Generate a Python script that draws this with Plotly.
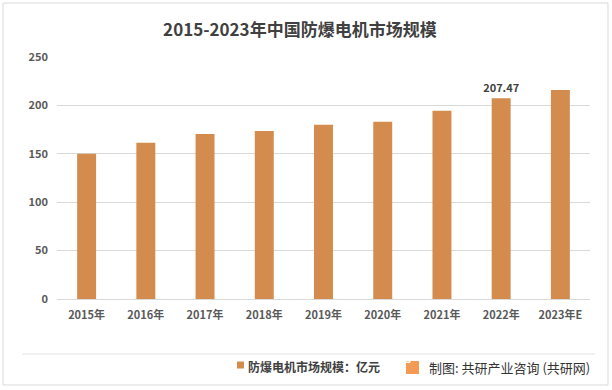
import plotly.graph_objects as go

categories = ["2015年", "2016年", "2017年", "2018年", "2019年", "2020年", "2021年", "2022年", "2023年E"]
values = [150, 161.5, 170.5, 173.5, 180, 183, 194.5, 207.47, 216]
labeled = ["2022年"]
series_name = "防爆电机市场规模：亿元"
title_text = "2015-2023年中国防爆电机市场规模"
source_text = "制图: 共研产业咨询 (共研网)"
bar_color = "#D38B4E"

W, H = 612, 390
L, R, T, B = 57, 22, 57, 91
pw, ph = W - L - R, H - T - B


def px(x):
    return (x - L) / pw


def py(y):
    return (H - B - y) / ph


font = "Microsoft YaHei, Noto Sans CJK SC, sans-serif"
texts = [f"{v:.2f}" if c in labeled else "" for c, v in zip(categories, values)]

fig = go.Figure()
fig.add_trace(go.Bar(
    x=categories, y=values, name=series_name,
    marker=dict(color=bar_color, line=dict(width=0)),
    width=0.32,
    text=texts, textposition="outside", cliponaxis=False, constraintext="none",
    textfont=dict(size=11, color="#404040", family=font, weight="bold"),
    showlegend=False, hoverinfo="skip",
))

fig.update_layout(
    width=W, height=H,
    margin=dict(l=L, r=R, t=T, b=B, autoexpand=False),
    paper_bgcolor="white", plot_bgcolor="white",
    font=dict(family=font, color="#595959"),
    title=dict(text=title_text, x=0.49, xanchor="center",
               y=1 - 30 / H, yanchor="middle",
               font=dict(size=17, color="#404040", family=font, weight="bold")),
    xaxis=dict(showgrid=False, showline=True, linecolor="#D9D9D9", ticks="",
               tickfont=dict(size=11, color="#595959", family=font, weight="bold"),
               ticklabelstandoff=6, fixedrange=True),
    yaxis=dict(range=[0, 250], dtick=50, showgrid=True, gridcolor="#D9D9D9",
               zeroline=False, showline=False, ticks="",
               tickfont=dict(size=11, color="#595959", family=font, weight="bold"),
               ticklabelstandoff=8, fixedrange=True),
    showlegend=False,
)

# outer frame
fig.add_shape(type="rect", xref="paper", yref="paper",
              x0=px(3), x1=px(608), y0=py(385), y1=py(3),
              line=dict(color="#D9D9D9", width=1), fillcolor="rgba(0,0,0,0)", layer="below")
# separator line
fig.add_shape(type="line", xref="paper", yref="paper",
              x0=px(22), x1=px(595), y0=py(354), y1=py(354),
              line=dict(color="#E3E3E3", width=1))
# legend
fig.add_shape(type="rect", xref="paper", yref="paper",
              x0=px(237), x1=px(244), y0=py(368.5), y1=py(361.5),
              line=dict(width=0), fillcolor=bar_color)
fig.add_annotation(xref="paper", yref="paper", x=px(246), y=py(366),
                   xanchor="left", yanchor="middle", text=series_name, showarrow=False,
                   font=dict(size=12, color="#404040", family=font, weight="bold"))
# logo
fig.add_shape(type="rect", xref="paper", yref="paper",
              x0=px(406), x1=px(419), y0=py(374), y1=py(361),
              line=dict(width=0), fillcolor="#F39A55", layer="below")
fig.add_annotation(xref="paper", yref="paper", x=px(412.5), y=py(367.5),
                   text="<b>G</b>", showarrow=False,
                   font=dict(size=10, color="white", family=font))
fig.add_annotation(xref="paper", yref="paper", x=px(427), y=py(367),
                   xanchor="left", yanchor="middle", text=source_text, showarrow=False,
                   font=dict(size=13, color="#333333", family=font))

fig.write_html("out.html", post_script="document.body.style.margin='0';",
               config={"displayModeBar": False})
